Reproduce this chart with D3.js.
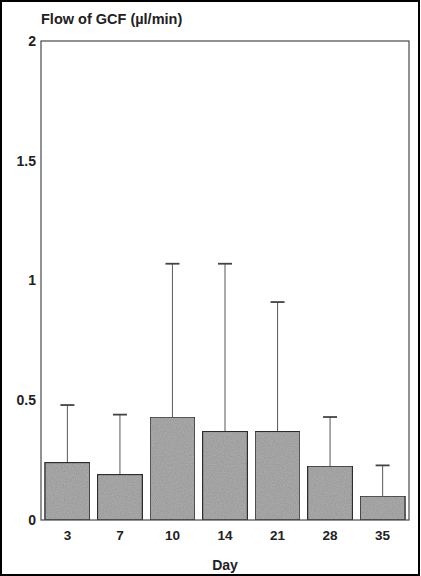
<!DOCTYPE html>
<html>
<head>
<meta charset="utf-8">
<script src="https://cdn.jsdelivr.net/npm/d3@7"></script>
<style>
  html, body { margin: 0; padding: 0; background: #fff; }
  svg { display: block; }
  text { font-family: "Liberation Sans", Arial, sans-serif; font-weight: bold; fill: #222; }
</style>
</head>
<body>
<script>
// GCF flow per sampling day: mean and upper error (mean + SD)
const days = ["3", "7", "10", "14", "21", "28", "35"];
const means = [0.24, 0.19, 0.43, 0.37, 0.37, 0.225, 0.1];
const upper = [0.48, 0.44, 1.07, 1.07, 0.91, 0.43, 0.228];
const yTicks = [0, 0.5, 1, 1.5, 2];
const yTickLabels = ["0", "0.5", "1", "1.5", "2"];

const W = 421, H = 576;
const margin = { top: 41, right: 12, bottom: 56, left: 41 };

const svg = d3.select("body").append("svg")
  .attr("width", W).attr("height", H);

// grain for the bar fill
const defs = svg.append("defs");
const f = defs.append("filter").attr("id", "grain")
  .attr("x", 0).attr("y", 0).attr("width", 1).attr("height", 1);
f.append("feTurbulence").attr("type", "fractalNoise")
  .attr("baseFrequency", 0.9).attr("numOctaves", 2).attr("seed", 3).attr("result", "n");
f.append("feColorMatrix").attr("in", "n").attr("type", "matrix")
  .attr("values", "0 0 0 0 0  0 0 0 0 0  0 0 0 0 0  0 0 0 0.35 -0.05").attr("result", "a");
f.append("feComposite").attr("in", "a").attr("in2", "SourceGraphic").attr("operator", "in").attr("result", "g");
f.append("feMerge").selectAll("feMergeNode").data(["SourceGraphic", "g"]).join("feMergeNode").attr("in", d => d);

// outer frame
svg.append("rect").attr("x", 1).attr("y", 1).attr("width", W - 3).attr("height", H - 2)
  .attr("fill", "none").attr("stroke", "#000").attr("stroke-width", 2);

const x = d3.scaleBand().domain(days)
  .range([margin.left, W - margin.right])
  .paddingInner(0.145).paddingOuter(0.075);
const y = d3.scaleLinear().domain([0, 2]).range([H - margin.bottom, margin.top]);

const g = svg.append("g");

// error bars (upward only)
const err = g.append("g").attr("stroke", "#666").attr("stroke-width", 1.1);
days.forEach((d, i) => {
  const cx = x(d) + x.bandwidth() / 2;
  err.append("line").attr("x1", cx).attr("x2", cx).attr("y1", y(means[i])).attr("y2", y(upper[i]));
  err.append("line").attr("x1", cx - 7).attr("x2", cx + 7).attr("y1", y(upper[i])).attr("y2", y(upper[i]))
    .attr("stroke", "#444").attr("stroke-width", 1.8);
});

// bars
g.append("g").selectAll("rect").data(days).join("rect")
  .attr("x", d => x(d))
  .attr("y", (d, i) => y(means[i]))
  .attr("width", x.bandwidth())
  .attr("height", (d, i) => y(0) - y(means[i]))
  .attr("fill", "#adadad")
  .attr("stroke", "#333")
  .attr("stroke-width", 1.3)
  .attr("filter", "url(#grain)");

// plot frame
g.append("rect")
  .attr("x", margin.left).attr("y", margin.top)
  .attr("width", W - margin.right - margin.left)
  .attr("height", y(0) - margin.top)
  .attr("fill", "none").attr("stroke", "#4a4a4a").attr("stroke-width", 1.2);

// y axis labels
const yAxis = d3.axisLeft(y).tickValues(yTicks).tickSize(0).tickPadding(5)
  .tickFormat((d, i) => yTickLabels[i]);
svg.append("g").attr("transform", `translate(${margin.left},0)`).call(yAxis)
  .call(s => s.select(".domain").remove())
  .selectAll("text").attr("font-size", 14).attr("fill", "#222")
  .style("font-family", "'Liberation Sans', Arial, sans-serif").style("font-weight", "bold");

// x axis labels
const xAxis = d3.axisBottom(x).tickSize(0).tickPadding(10);
svg.append("g").attr("transform", `translate(0,${y(0)})`).call(xAxis)
  .call(s => s.select(".domain").remove())
  .selectAll("text").attr("font-size", 13.5).attr("fill", "#222")
  .style("font-family", "'Liberation Sans', Arial, sans-serif").style("font-weight", "bold");

// titles
svg.append("text").attr("x", margin.left).attr("y", 24)
  .attr("font-size", 14.5).text("Flow of GCF (\u00b5l/min)");
svg.append("text").attr("x", 225).attr("y", 570).attr("text-anchor", "middle")
  .attr("font-size", 14).text("Day");
</script>
</body>
</html>
